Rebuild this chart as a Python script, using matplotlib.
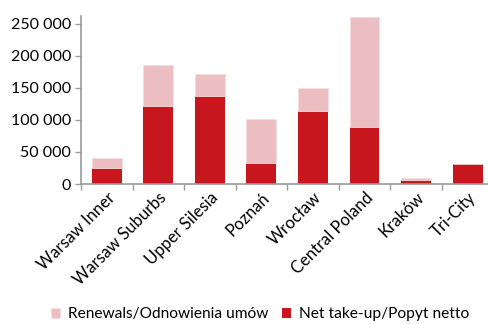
import matplotlib
matplotlib.use("Agg")
import matplotlib.pyplot as plt
import numpy as np

plt.rcParams["font.family"] = ["Lato", "DejaVu Sans"]

regions = ["Warsaw Inner", "Warsaw Suburbs", "Upper Silesia", "Poznań",
           "Wrocław", "Central Poland", "Kraków", "Tri-City"]
net_takeup = [25000, 122000, 137500, 32500, 114000, 88500, 6500, 31000]
renewals = [15000, 64000, 33500, 69500, 36000, 172500, 2500, 0]

DARK = "#C8161E"
LIGHT = "#ECBEC2"
GREY = "#9a9a9a"

fig = plt.figure(figsize=(4.88, 3.24), dpi=100)
ax = fig.add_axes([0.166, 0.432, 0.845, 0.519])

x = np.arange(len(regions))
ax.bar(x, net_takeup, width=0.58, color=DARK, label="Net take-up/Popyt netto", zorder=2)
ax.bar(x, renewals, width=0.58, bottom=net_takeup, color=LIGHT,
       edgecolor="#f6dde0", linewidth=0.6, label="Renewals/Odnowienia umów", zorder=2)

ax.set_xlim(-0.5, len(regions) - 0.5)
ax.set_ylim(0, 262000)
ax.set_yticks(np.arange(0, 250001, 50000))
ax.set_yticklabels([f"{v:,}".replace(",", " ") for v in range(0, 250001, 50000)], fontsize=11.5)

ax.set_xticks(x)
ax.set_xticklabels(regions, rotation=45, ha="right", rotation_mode="anchor", fontsize=12)
ax.tick_params(axis="x", length=0, pad=4)
ax.set_xticks(np.arange(-0.5, len(regions), 1), minor=True)
ax.tick_params(axis="x", which="minor", length=4, color=GREY, width=1)
ax.tick_params(axis="y", length=4, color=GREY, width=1, pad=3)

for s in ["top", "right"]:
    ax.spines[s].set_visible(False)
for s in ["left", "bottom"]:
    ax.spines[s].set_color(GREY)
    ax.spines[s].set_linewidth(1.2)

handles, labels = ax.get_legend_handles_labels()
fig.legend(handles[::-1], labels[::-1], loc="lower left", bbox_to_anchor=(0.075, -0.035),
           ncol=2, frameon=False, fontsize=11.2, handlelength=0.6, handleheight=0.6,
           handletextpad=0.5, columnspacing=0.9)

fig.savefig("out.png", dpi=100)
